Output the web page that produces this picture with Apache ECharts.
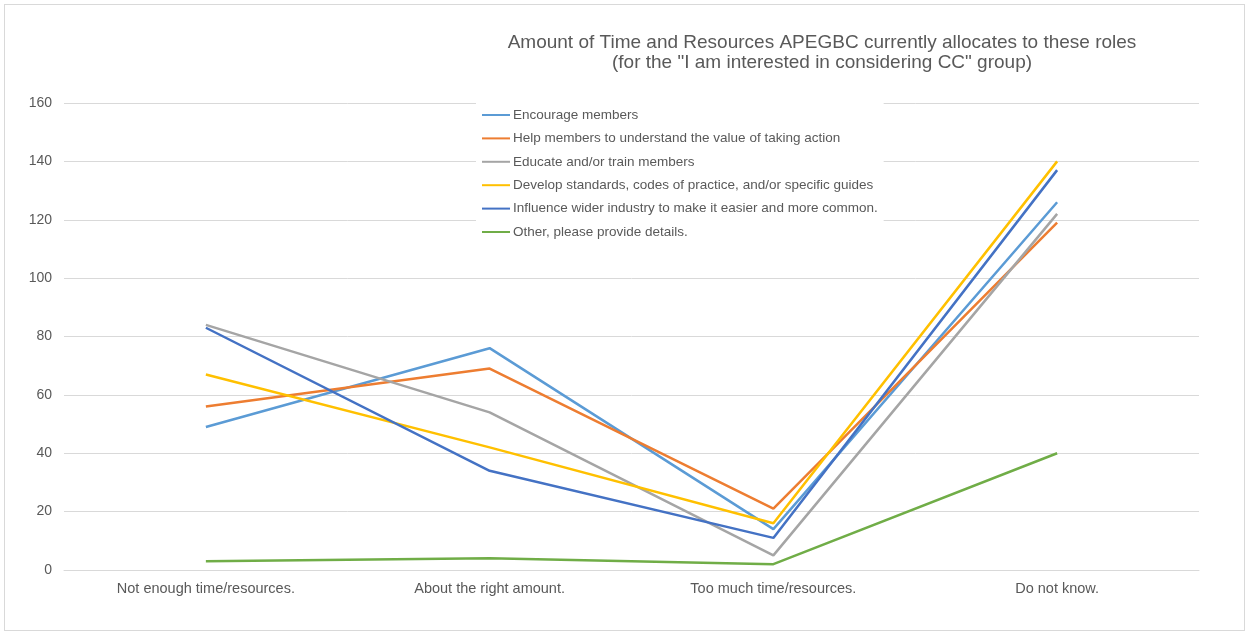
<!DOCTYPE html>
<html>
<head>
<meta charset="utf-8">
<script src="https://cdn.jsdelivr.net/npm/echarts@6/dist/echarts.min.js"></script>
<style>
  html, body { margin: 0; padding: 0; background: #fff; }
  #chart { position: absolute; left: 4px; top: 4px; width: 1241px; height: 627px; border: 1px solid #d9d9d9; box-sizing: border-box; }
</style>
</head>
<body>
<div id="chart"></div>
<script>
var categories = ['Not enough time/resources.', 'About the right amount.', 'Too much time/resources.', 'Do not know.'];
var seriesNames = [
    'Encourage members',
    'Help members to understand the value of taking action',
    'Educate and/or train members',
    'Develop standards, codes of practice, and/or specific guides',
    'Influence wider industry to make it easier and more common.',
    'Other, please provide details.'
];
var encourage = [49, 76, 14, 126];
var helpUnderstand = [56, 69, 21, 119];
var educate = [84, 54, 5, 122];
var develop = [67, 42, 16, 140];
var influence = [83, 34, 11, 137];
var other = [3, 4, 2, 40];
var colors = ['#5b9bd5', '#ed7d31', '#a5a5a5', '#ffc000', '#4472c4', '#70ad47'];

var chart = echarts.init(document.getElementById('chart'));
var allData = [encourage, helpUnderstand, educate, develop, influence, other];
var series = [];
for (var i = 0; i < allData.length; i++) {
    series.push({
        name: seriesNames[i],
        type: 'line',
        data: allData[i],
        symbol: 'none',
        lineStyle: { width: 2.5, color: colors[i] },
        itemStyle: { color: colors[i] },
        z: 2
    });
}

chart.setOption({
    animation: false,
    textStyle: { fontFamily: 'Liberation Sans, Arial, sans-serif' },
    title: {
        text: 'Amount of Time and Resources APEGBC currently allocates to these roles\n(for the "I am interested in considering CC" group)',
        left: 812,
        top: 23,
        textAlign: 'center',
        textStyle: { fontSize: 19, fontWeight: 'normal', color: '#595959', lineHeight: 20 }
    },
    legend: {
        orient: 'vertical',
        left: 471,
        top: 98,
        padding: [5, 6, 5, 6],
        backgroundColor: '#fff',
        itemWidth: 28,
        itemHeight: 12,
        itemGap: 9.4,
        icon: 'path://M0,5 L28,5 L28,7 L0,7 Z',
        textStyle: { fontSize: 13.5, color: '#595959', padding: [0, 0, 0, -2] },
        z: 10,
        data: seriesNames.map(function (n, i) {
            return { name: n, itemStyle: { color: colors[i] } };
        })
    },
    grid: { left: 59, right: 45, top: 98, bottom: 60 },
    xAxis: {
        type: 'category',
        data: categories,
        boundaryGap: true,
        axisLine: { lineStyle: { color: '#d9d9d9', width: 1 } },
        axisTick: { show: false },
        axisLabel: { color: '#595959', fontSize: 14.5, margin: 11 }
    },
    yAxis: {
        type: 'value',
        min: 0,
        max: 160,
        interval: 20,
        axisLine: { show: false },
        axisTick: { show: false },
        axisLabel: { color: '#595959', fontSize: 14, margin: 12 },
        splitLine: { lineStyle: { color: '#d9d9d9', width: 1 } }
    },
    series: series
});
</script>
</body>
</html>
